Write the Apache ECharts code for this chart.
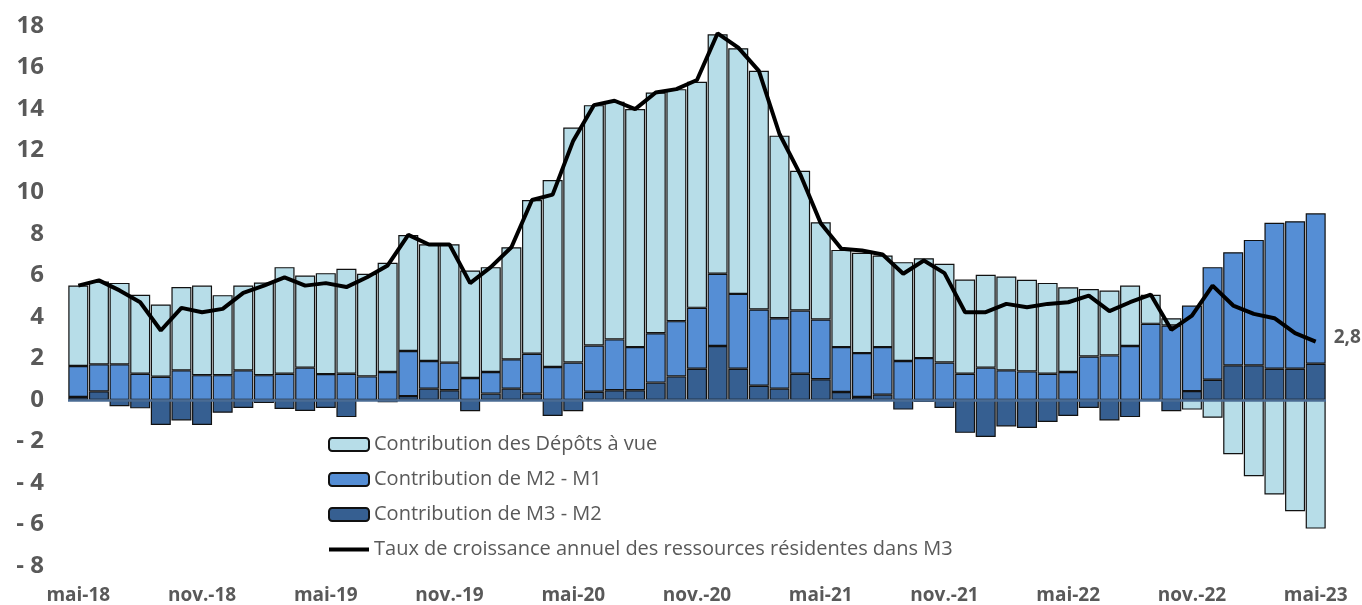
<!DOCTYPE html>
<html>
<head>
<meta charset="utf-8">
<script src="https://cdn.jsdelivr.net/npm/echarts@6/dist/echarts.min.js"></script>
<style>
  html, body { margin: 0; padding: 0; background: #fff; }
  #chart { width: 1362px; height: 605px; }
</style>
</head>
<body>
<div id="chart"></div>
<script>
const months = [
  "mai-18", "juin-18", "juil.-18", "août-18", "sept.-18", "oct.-18", "nov.-18", "déc.-18",
  "janv.-19", "févr.-19", "mars-19", "avr.-19", "mai-19", "juin-19", "juil.-19", "août-19",
  "sept.-19", "oct.-19", "nov.-19", "déc.-19", "janv.-20", "févr.-20", "mars-20", "avr.-20",
  "mai-20", "juin-20", "juil.-20", "août-20", "sept.-20", "oct.-20", "nov.-20", "déc.-20",
  "janv.-21", "févr.-21", "mars-21", "avr.-21", "mai-21", "juin-21", "juil.-21", "août-21",
  "sept.-21", "oct.-21", "nov.-21", "déc.-21", "janv.-22", "févr.-22", "mars-22", "avr.-22",
  "mai-22", "juin-22", "juil.-22", "août-22", "sept.-22", "oct.-22", "nov.-22", "déc.-22",
  "janv.-23", "févr.-23", "mars-23", "avr.-23", "mai-23"
];

// contribution des dépôts à vue
const depotsVue = [
  3.87, 3.99, 3.92, 3.80, 3.48, 4.01, 4.31, 3.85, 4.08, 4.46, 5.13, 4.44, 4.86, 5.05, 4.94, 5.26,
  5.59, 5.62, 5.70, 5.18, 5.05, 5.40, 7.40, 9.00, 11.31, 11.57, 11.44, 11.46, 11.59, 11.17, 10.88, 11.53,
  11.83, 11.49, 8.79, 6.73, 4.68, 4.68, 4.83, 4.41, 4.76, 4.81, 4.75, 4.53, 4.47, 4.52, 4.41, 4.37,
  4.08, 3.25, 3.12, 2.91, 1.40, 0.35, -0.47, -0.86, -2.62, -3.68, -4.56, -5.36, -6.20
];

// contribution de M2 - M1
const m2m1 = [
  1.49, 1.30, 1.71, 1.26, 1.11, 1.42, 1.19, 1.19, 1.42, 1.19, 1.26, 1.55, 1.24, 1.26, 1.13, 1.34,
  2.17, 1.33, 1.33, 1.05, 1.04, 1.41, 1.92, 1.58, 1.80, 2.23, 2.45, 2.08, 2.38, 2.66, 2.93, 3.48,
  3.60, 3.67, 3.39, 3.04, 2.88, 2.16, 2.11, 2.29, 1.87, 2.01, 1.80, 1.26, 1.55, 1.42, 1.37, 1.26,
  1.34, 2.09, 2.14, 2.59, 3.66, 3.58, 4.12, 5.42, 5.45, 6.04, 7.03, 7.10, 7.24
];

// contribution de M3 - M2
const m3m2 = [
  0.14, 0.41, -0.31, -0.41, -1.21, -0.99, -1.21, -0.62, -0.39, -0.15, -0.44, -0.54, -0.39, -0.83, 0.00, -0.12,
  0.18, 0.54, 0.46, -0.55, 0.30, 0.54, 0.30, -0.78, -0.55, 0.39, 0.46, 0.46, 0.83, 1.13, 1.50, 2.59,
  1.50, 0.68, 0.54, 1.26, 0.99, 0.38, 0.14, 0.25, -0.47, -0.10, -0.39, -1.59, -1.79, -1.28, -1.35, -1.07,
  -0.78, -0.39, -0.99, -0.83, -0.05, -0.55, 0.42, 0.97, 1.66, 1.66, 1.50, 1.50, 1.74
];

// taux de croissance annuel des ressources résidentes dans M3
const tauxM3 = [
  5.50, 5.75, 5.27, 4.70, 3.34, 4.43, 4.22, 4.38, 5.15, 5.50, 5.90, 5.50, 5.62, 5.43, 5.90, 6.47,
  7.94, 7.48, 7.48, 5.62, 6.39, 7.35, 9.62, 9.88, 12.48, 14.19, 14.40, 14.00, 14.80, 14.96, 15.40, 17.65,
  16.96, 15.84, 12.80, 10.87, 8.50, 7.27, 7.19, 7.00, 6.07, 6.71, 6.10, 4.22, 4.22, 4.62, 4.46, 4.62,
  4.70, 5.02, 4.27, 4.70, 5.07, 3.37, 4.06, 5.50, 4.54, 4.14, 3.93, 3.21, 2.80
];

const yTicks = { min: -8, max: 18, interval: 2 };

const textGray = "#595959";
const fontFamily = "'Open Sans', 'Noto Sans', sans-serif";

const names = {
  dav: "Contribution des Dépôts à vue",
  m2: "Contribution de M2 - M1",
  m3: "Contribution de M3 - M2",
  taux: "Taux de croissance annuel des ressources résidentes dans M3"
};

// thick line icon for the legend (invisible corner points keep the 40x13 box)
const lineIcon = "path://M0,0L0,0M0,4.5L40,4.5L40,8.5L0,8.5ZM40,13L40,13";

function barSeries(name, data, color) {
  return {
    name: name,
    type: "bar",
    stack: "contrib",
    barCategoryGap: "3%",
    data: data,
    itemStyle: {
      color: color,
      borderColor: "#111",
      borderWidth: 1.2
    },
    emphasis: { disabled: true }
  };
}

const chart = echarts.init(document.getElementById("chart"));
chart.setOption({
  animation: false,
  textStyle: { fontFamily: fontFamily },
  grid: { left: 68, right: 36, top: 26, bottom: 38 },
  legend: {
    orient: "vertical",
    left: 323,
    top: 427,
    itemWidth: 40,
    itemHeight: 13,
    itemGap: 10,
    data: [
      names.dav,
      names.m2,
      names.m3,
      { name: names.taux, icon: lineIcon, itemStyle: { color: "#000", borderWidth: 0 } }
    ],
    textStyle: { color: textGray, fontSize: 20, fontFamily: fontFamily, lineHeight: 25 }
  },
  xAxis: {
    type: "category",
    data: months,
    axisLine: { show: false, onZero: false },
    axisTick: { show: false },
    axisLabel: {
      interval: 5,
      color: textGray,
      fontWeight: "bold",
      fontSize: 19,
      margin: 20
    }
  },
  yAxis: {
    type: "value",
    min: yTicks.min,
    max: yTicks.max,
    interval: yTicks.interval,
    splitLine: { show: false },
    axisLine: { show: false },
    axisTick: { show: false },
    axisLabel: {
      color: textGray,
      fontWeight: "bold",
      fontSize: 24,
      margin: 24,
      formatter: function (v) {
        return v < 0 ? "- " + Math.abs(v) : String(v);
      }
    }
  },
  series: [
    barSeries(names.m3, m3m2, "#365f91"),
    barSeries(names.m2, m2m1, "#558ed5"),
    barSeries(names.dav, depotsVue, "#b7dde8"),
    {
      name: names.taux,
      type: "line",
      data: tauxM3,
      symbol: "none",
      z: 5,
      lineStyle: { color: "#000", width: 4 },
      itemStyle: { color: "#000" },
      endLabel: {
        show: true,
        distance: 18,
        offset: [0, -4],
        color: textGray,
        fontWeight: "bold",
        fontSize: 19,
        formatter: function (p) {
          return String(p.value).replace(".", ",");
        }
      },
      markLine: {
        silent: true,
        symbol: "none",
        label: { show: false },
        lineStyle: { color: "#4a6b93", width: 2.5, type: "solid" },
        data: [{ yAxis: 0 }]
      },
      emphasis: { disabled: true }
    }
  ]
});
</script>
</body>
</html>
